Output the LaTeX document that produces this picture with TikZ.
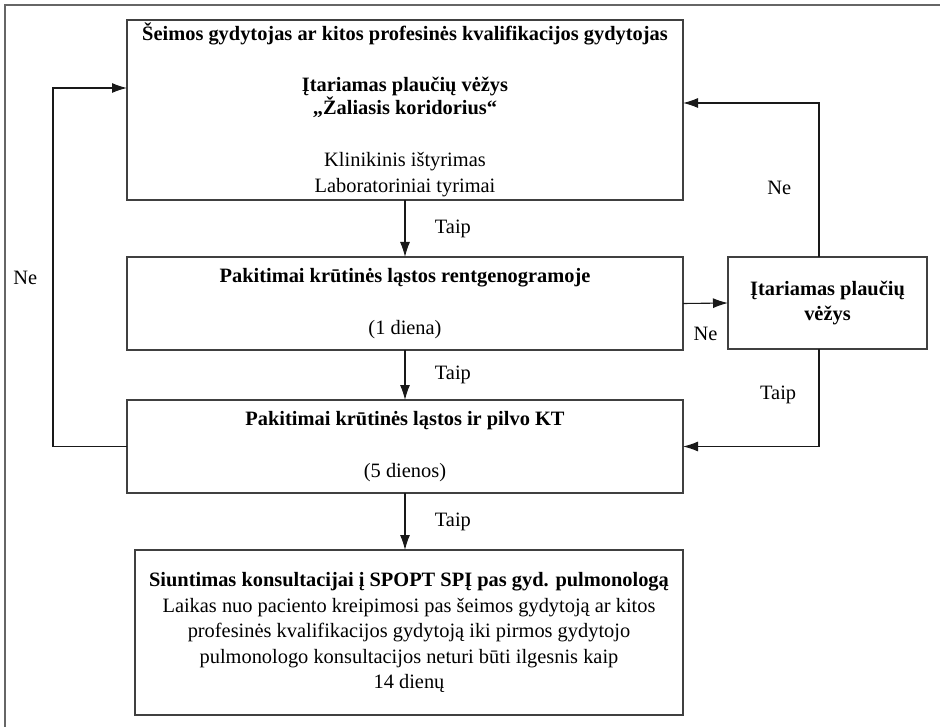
\documentclass[tikz,border=0pt]{standalone}
\usepackage{fontspec}
\setmainfont{Liberation Serif}
\usetikzlibrary{arrows.meta}

\begin{document}
\begin{tikzpicture}[x=1pt,y=-1pt,
        font=\fontsize{20.4pt}{25.5pt}\selectfont,
        box/.style={draw=black!75,line width=1.4pt,align=center,inner sep=0pt,outer sep=0pt},
        arr/.style={draw=black!90,line width=1.1pt,-{Latex[length=15pt,width=10pt]}}]
        \useasboundingbox (0,0) rectangle (940,727);
        % frame
        \draw[black!60,line width=1.6pt] (5,740) -- (5,5) -- (950,5);
        % boxes
        \draw (405,110) node[box,minimum width=556pt,minimum height=180pt] (S)
            {\textbf{Šeimos gydytojas ar kitos profesinės kvalifikacijos gydytojas}\\[25.5pt]
             \textbf{Įtariamas plaučių vėžys}\\[-3pt]
             \textbf{„Žaliasis koridorius“}\\[27pt]
             Klinikinis ištyrimas\\
             Laboratoriniai tyrimai};
        \draw (405,303.5) node[box,minimum width=556pt,minimum height=93pt] (R)
            {\textbf{Pakitimai krūtinės ląstos rentgenogramoje}\\[26.5pt] (1 diena)};
        \draw (405,446.5) node[box,minimum width=556pt,minimum height=93pt] (K)
            {\textbf{Pakitimai krūtinės ląstos ir pilvo KT}\\[26.5pt] (5 dienos)};
        \draw (409,632.5) node[box,minimum width=548pt,minimum height=165pt] (P)
            {\textbf{Siuntimas konsultacijai į SPOPT SPĮ pas gyd. pulmonologą}\\
             Laikas nuo paciento kreipimosi pas šeimos gydytoją ar kitos\\
             profesinės kvalifikacijos gydytoją iki pirmos gydytojo\\
             pulmonologo konsultacijos neturi būti ilgesnis kaip\\
             14 dienų};
        \draw (827.5,303) node[box,minimum width=199pt,minimum height=92pt] (I)
            {\textbf{Įtariamas plaučių}\\ \textbf{vėžys}};
        % corners of the loops
        \coordinate (nL) at (53,88);
        \coordinate (nR) at (819,103);
        % connectors
        \draw[arr] (S) -- (R) node[right=26pt,pos=.5] {Taip};
        \draw[arr] (R) -- (K) node[right=26pt,pos=.5] {Taip};
        \draw[arr] (K.south) -- (K.south |- P.north) node[right=26pt,pos=.5] {Taip};
        \draw[arr] (R.east) -- (I.west) node[below=20pt,pos=.5] {Ne};
        \draw[arr] (K.west) -| (nL) node[left=12pt,pos=.735] {Ne} -- (nL -| S.west);
        \draw[arr] (nR |- I.north) -- (nR) node[left=24pt,pos=.45] {Ne} -- (nR -| S.east);
        \draw[arr] (nR |- I.south) |- (K.east) node[left=19pt,pos=.237] {Taip};
    \end{tikzpicture}
\end{document}
